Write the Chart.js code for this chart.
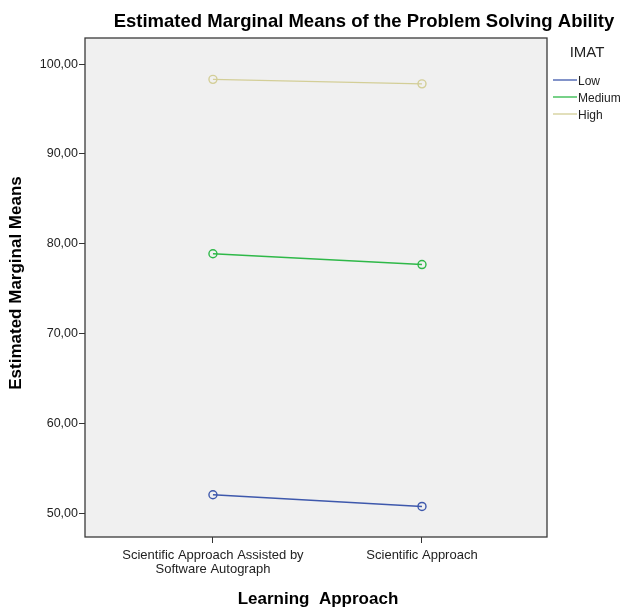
<!DOCTYPE html>
<html><head><meta charset="utf-8">
<script src="https://cdn.jsdelivr.net/npm/chart.js@4"></script>
<style>html,body{margin:0;padding:0;background:#fff}#wrap{width:622px;height:607px;position:relative}</style>
</head><body><div id="wrap"><canvas id="c" width="622" height="607"></canvas></div>
<script>
const chartTitle = "Estimated Marginal Means of the Problem Solving Ability";
const xTitle = "Learning  Approach";
const yTitle = "Estimated Marginal Means";
const legendTitle = "IMAT";
const categories = [["Scientific Approach Assisted by", "Software Autograph"], "Scientific Approach"];
const seriesNames = ["Low", "Medium", "High"];
const lowValues = [52.1, 50.8];
const mediumValues = [78.9, 77.7];
const highValues = [98.3, 97.8];
const yTicks = [50, 60, 70, 80, 90, 100];
const colors = ["#3E58AC", "#2EB848", "#D3CE97"];
const FONT = "'Liberation Sans', Arial, sans-serif";

const seriesValues = [lowValues, mediumValues, highValues];
const datasets = seriesNames.map((n, i) => ({
  label: n,
  data: seriesValues[i].map((v, j) => ({x: j, y: v})),
  borderColor: colors[i],
  backgroundColor: 'rgba(0,0,0,0)',
  borderWidth: 1.4,
  pointRadius: 4,
  pointBorderWidth: 1.4,
  pointBackgroundColor: 'rgba(0,0,0,0)',
  pointBorderColor: colors[i],
  showLine: true,
  tension: 0
}));

const deco = {
  id: 'deco',
  beforeDraw(chart) {
    const {ctx, chartArea: a} = chart;
    ctx.save();
    ctx.fillStyle = '#F0F0F0';
    ctx.fillRect(a.left, a.top, a.right - a.left, a.bottom - a.top);
    ctx.restore();
  },
  afterDraw(chart) {
    const {ctx, chartArea: a} = chart;
    ctx.save();
    ctx.strokeStyle = '#3a3a3a';
    ctx.lineWidth = 1.3;
    ctx.strokeRect(a.left, a.top, a.right - a.left, a.bottom - a.top);
    ctx.fillStyle = '#000';
    ctx.textBaseline = 'middle';
    ctx.textAlign = 'center';
    ctx.font = "bold 18.5px " + FONT;
    ctx.fillText(chartTitle, 364, 22);
    ctx.font = "bold 17px " + FONT;
    ctx.fillText(xTitle, 318, 599);
    ctx.save();
    ctx.translate(16, 283);
    ctx.rotate(-Math.PI / 2);
    ctx.fillText(yTitle, 0, 0);
    ctx.restore();
    // legend
    ctx.font = "15px " + FONT;
    ctx.fillStyle = '#222';
    ctx.fillText(legendTitle, 587, 53);
    ctx.font = "12px " + FONT;
    ctx.textAlign = 'left';
    seriesNames.forEach((n, i) => {
      const y = 81 + i * 17;
      ctx.strokeStyle = colors[i];
      ctx.lineWidth = 1.3;
      ctx.beginPath(); ctx.moveTo(553, y - 1); ctx.lineTo(577, y - 1); ctx.stroke();
      ctx.fillStyle = '#222';
      ctx.fillText(n, 578, y + 1);
    });
    ctx.restore();
  }
};

new Chart(document.getElementById('c'), {
  type: 'scatter',
  data: {datasets},
  options: {
    responsive: false,
    animation: false,
    devicePixelRatio: 1,
    layout: {padding: {top: 38, right: 75, left: 0, bottom: 0}},
    plugins: {legend: {display: false}, tooltip: {enabled: false}, title: {display: false}},
    scales: {
      x: {
        type: 'linear', min: -0.612, max: 1.598,
        afterBuildTicks: s => { s.ticks = categories.map((c, i) => ({value: i})); },
        afterFit: s => { s.height = 70; },
        grid: {drawOnChartArea: false, tickLength: 6, color: '#333', lineWidth: 1},
        border: {display: false},
        ticks: {
          color: '#222', font: {family: FONT, size: 13, lineHeight: 1.05}, padding: 6, maxRotation: 0, autoSkip: false,
          callback: v => categories[v]
        }
      },
      y: {
        type: 'linear', min: 47.4, max: 102.9,
        afterBuildTicks: s => { s.ticks = yTicks.map(v => ({value: v})); },
        afterFit: s => { s.width = 85; },
        grid: {drawOnChartArea: false, tickLength: 6, color: '#333', lineWidth: 1},
        border: {display: false},
        ticks: {
          color: '#222', font: {family: FONT, size: 12.5}, padding: 1,
          callback: v => v.toFixed(2).replace('.', ',')
        }
      }
    }
  },
  plugins: [deco]
});
</script></body></html>
